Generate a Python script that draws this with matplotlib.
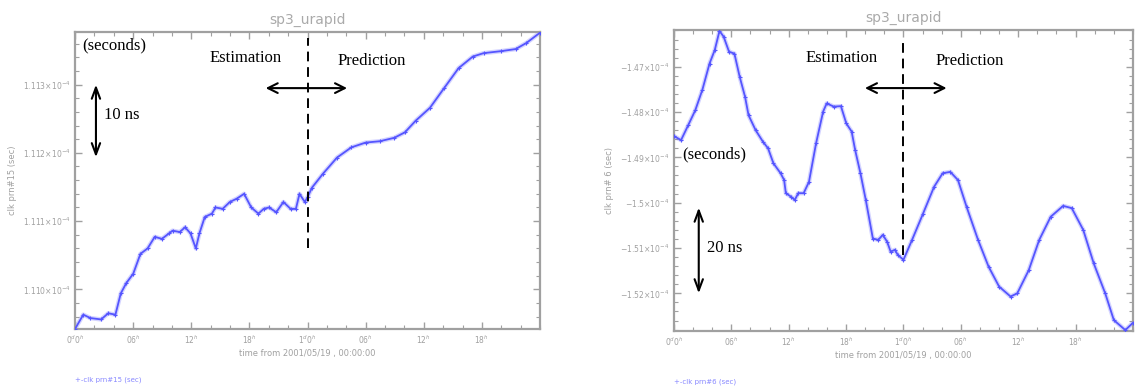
import matplotlib
matplotlib.use("Agg")
import matplotlib.pyplot as plt
from matplotlib.ticker import MultipleLocator

# --- data (hours from 2001/05/19 00:00, clock offset in ns relative to lowest tick) ---
HOURS_15 = [0, 0.85, 1.59, 2.69, 3.43, 4.17, 4.72, 5.28, 6.01, 6.75, 7.49, 8.23, 8.97, 9.70,
            10.07, 10.81, 11.36, 11.92, 12.47, 12.84, 13.39, 14.13, 14.50, 15.24, 15.98, 16.71,
            17.45, 18.19, 18.93, 19.48, 20.03, 20.77, 21.51, 22.25, 22.80, 23.17, 23.72, 24.0,
            24.46, 25.57, 27.04, 28.52, 29.99, 31.47, 32.95, 34.05, 35.16, 36.64, 38.11, 39.59,
            41.06, 42.17, 44.02, 45.49, 46.60, 48.0]
CLK_15 = [-5.8, -3.7, -4.2, -4.4, -3.5, -3.7, -0.6, 0.9, 2.3, 5.2, 6.0, 7.7, 7.4, 8.2,
          8.6, 8.4, 9.1, 8.2, 6.0, 8.2, 10.6, 11.1, 12.0, 11.8, 12.8, 13.3,
          14.0, 12.0, 11.1, 11.8, 12.0, 11.3, 12.8, 11.8, 11.8, 14.0, 12.8, 13.5,
          14.9, 16.9, 19.3, 20.8, 21.5, 21.7, 22.2, 23.0, 24.7, 26.6, 29.5, 32.4,
          34.1, 34.6, 34.9, 35.2, 36.1, 37.6]

HOURS_6 = [0, 0.74, 1.49, 2.23, 2.97, 3.72, 4.27, 4.76, 5.20, 5.76, 6.32, 6.87, 7.43, 7.80,
           8.54, 9.29, 9.84, 10.40, 11.15, 11.52, 11.70, 12.26, 12.63, 13.00, 13.56, 14.12,
           14.86, 15.60, 15.97, 16.72, 17.46, 18.02, 18.58, 18.95, 19.50, 20.06, 20.80, 21.36,
           21.84, 22.29, 22.66, 23.11, 23.40, 24.0,
           24.9, 26.05, 27.2, 28.1, 28.9, 29.7, 30.6, 31.8, 32.9, 34.0, 35.2, 35.9, 37.1,
           38.2, 39.4, 40.7, 41.6, 42.8, 43.9, 45.1, 46.0, 47.2, 48.0]
CLK_6 = [34.7, 33.8, 37.1, 40.4, 44.9, 50.7, 53.7, 57.9, 56.6, 53.3, 52.9, 47.8, 43.4, 39.3,
         36.0, 33.5, 32.0, 28.7, 26.5, 25.0, 22.1, 21.3, 20.6, 22.1, 22.1, 24.6,
         33.1, 40.1, 41.9, 41.2, 41.3, 37.5, 35.7, 31.6, 26.5, 20.6, 12.1, 11.8,
         12.9, 11.4, 9.2, 9.6, 8.5, 7.4,
         11.8, 17.6, 23.5, 26.5, 26.8, 25.0, 19.1, 11.8, 5.9, 1.5, -0.7, 0.0, 5.1,
         11.8, 16.9, 19.3, 18.8, 14.0, 6.6, 0.0, -5.9, -8.1, -6.5]

XTICKS = [0, 6, 12, 18, 24, 30, 36, 42]
XTICKLABELS = ["0$^d$0$^h$", "06$^h$", "12$^h$", "18$^h$", "1$^d$0$^h$", "06$^h$", "12$^h$", "18$^h$"]
YTICKS_15 = [0, 10, 20, 30]
YLABELS_15 = [r"1.110$\times$10$^{-4}$", r"1.111$\times$10$^{-4}$",
              r"1.112$\times$10$^{-4}$", r"1.113$\times$10$^{-4}$"]
YTICKS_6 = [0, 10, 20, 30, 40, 50]
YLABELS_6 = [r"$-$1.52$\times$10$^{-4}$", r"$-$1.51$\times$10$^{-4}$", r"$-$1.5$\times$10$^{-4}$",
             r"$-$1.49$\times$10$^{-4}$", r"$-$1.48$\times$10$^{-4}$", r"$-$1.47$\times$10$^{-4}$"]

GRAY = "#a0a0a0"
BLUE = "#5555ff"
SERIF = "Liberation Serif"

fig = plt.figure(figsize=(11.35, 3.91), dpi=100)
fig.patch.set_facecolor("white")


def panel(rect, hours, clk, yticks, ylabels, ylim, ylabel, legend, notes):
    ax = fig.add_axes(rect)
    ax.plot(hours, clk, color=BLUE, lw=3.2, alpha=0.25, solid_capstyle="round", zorder=2)
    ax.plot(hours, clk, color=BLUE, lw=1.3, marker="+", ms=2.5, mew=0.8, zorder=3)
    ax.set_xlim(0, 48); ax.set_ylim(*ylim)
    ax.set_xticks(XTICKS); ax.set_xticklabels(XTICKLABELS)
    ax.xaxis.set_minor_locator(MultipleLocator(2))
    ax.set_yticks(yticks); ax.set_yticklabels(ylabels)
    ax.yaxis.set_minor_locator(MultipleLocator(2))
    ax.tick_params(which="both", direction="in", top=True, right=True, colors=GRAY,
                   labelcolor=GRAY, labelsize=5.5)
    ax.tick_params(which="major", length=5, width=1)
    ax.tick_params(which="minor", length=3, width=0.8)
    for sp in ax.spines.values():
        sp.set_color(GRAY); sp.set_linewidth(1.6)
    ax.set_title("sp3_urapid", color="#aaaaaa", fontsize=10, pad=6)
    ax.set_xlabel("time from 2001/05/19 , 00:00:00", color=GRAY, fontsize=6, labelpad=2)
    ax.set_ylabel(ylabel, color=GRAY, fontsize=6, labelpad=4)
    ax.text(0.0, -0.17, legend, transform=ax.transAxes, color=BLUE, fontsize=5,
            alpha=0.7, va="center", ha="left")
    # annotations
    ax.plot([0.5, 0.5], notes["dash"], transform=ax.transAxes, color="black",
            lw=1.4, ls=(0, (5, 3)), zorder=4)
    ax.annotate("", xy=(notes["harrow"][0], notes["harrow"][2]), xytext=(notes["harrow"][1], notes["harrow"][2]),
                xycoords="axes fraction",
                arrowprops=dict(arrowstyle="<->,head_length=0.7,head_width=0.35", lw=1.5, color="black"))
    ax.annotate("", xy=(notes["varrow"][0], notes["varrow"][1]), xytext=(notes["varrow"][0], notes["varrow"][2]),
                xycoords="axes fraction",
                arrowprops=dict(arrowstyle="<->,head_length=0.8,head_width=0.3", lw=1.5, color="black"))
    ax.text(*notes["est"], "Estimation", transform=ax.transAxes, family=SERIF, fontsize=12,
            ha="center", va="center")
    ax.text(*notes["pred"], "Prediction", transform=ax.transAxes, family=SERIF, fontsize=12,
            ha="center", va="center")
    ax.text(*notes["sec"], "(seconds)", transform=ax.transAxes, family=SERIF, fontsize=12,
            ha="left", va="center")
    ax.text(*notes["ns"], transform=ax.transAxes, family=SERIF, fontsize=12,
            ha="left", va="center")
    return ax


panel([0.0661, 0.1586, 0.4097, 0.7596], HOURS_15, CLK_15, YTICKS_15, YLABELS_15, (-5.8, 37.7),
      "clk prn#15 (sec)", "+-clk prn#15 (sec)",
      dict(dash=(0.273, 0.98), harrow=(0.404, 0.591, 0.811), varrow=(0.045, 0.832, 0.569),
           est=(0.366, 0.912), pred=(0.639, 0.902), sec=(0.015, 0.956), ns=(0.062, 0.72, "10 ns")))

panel([0.5938, 0.1535, 0.4044, 0.7698], HOURS_6, CLK_6, YTICKS_6, YLABELS_6, (-8.3, 58.1),
      "clk prn# 6 (sec)", "+-clk prn#6 (sec)",
      dict(dash=(0.252, 0.973), harrow=(0.41, 0.60, 0.807), varrow=(0.054, 0.419, 0.116),
           est=(0.366, 0.907), pred=(0.645, 0.897), sec=(0.017, 0.588), ns=(0.072, 0.276, "20 ns")))

fig.savefig("out.png", dpi=100, facecolor="white")
